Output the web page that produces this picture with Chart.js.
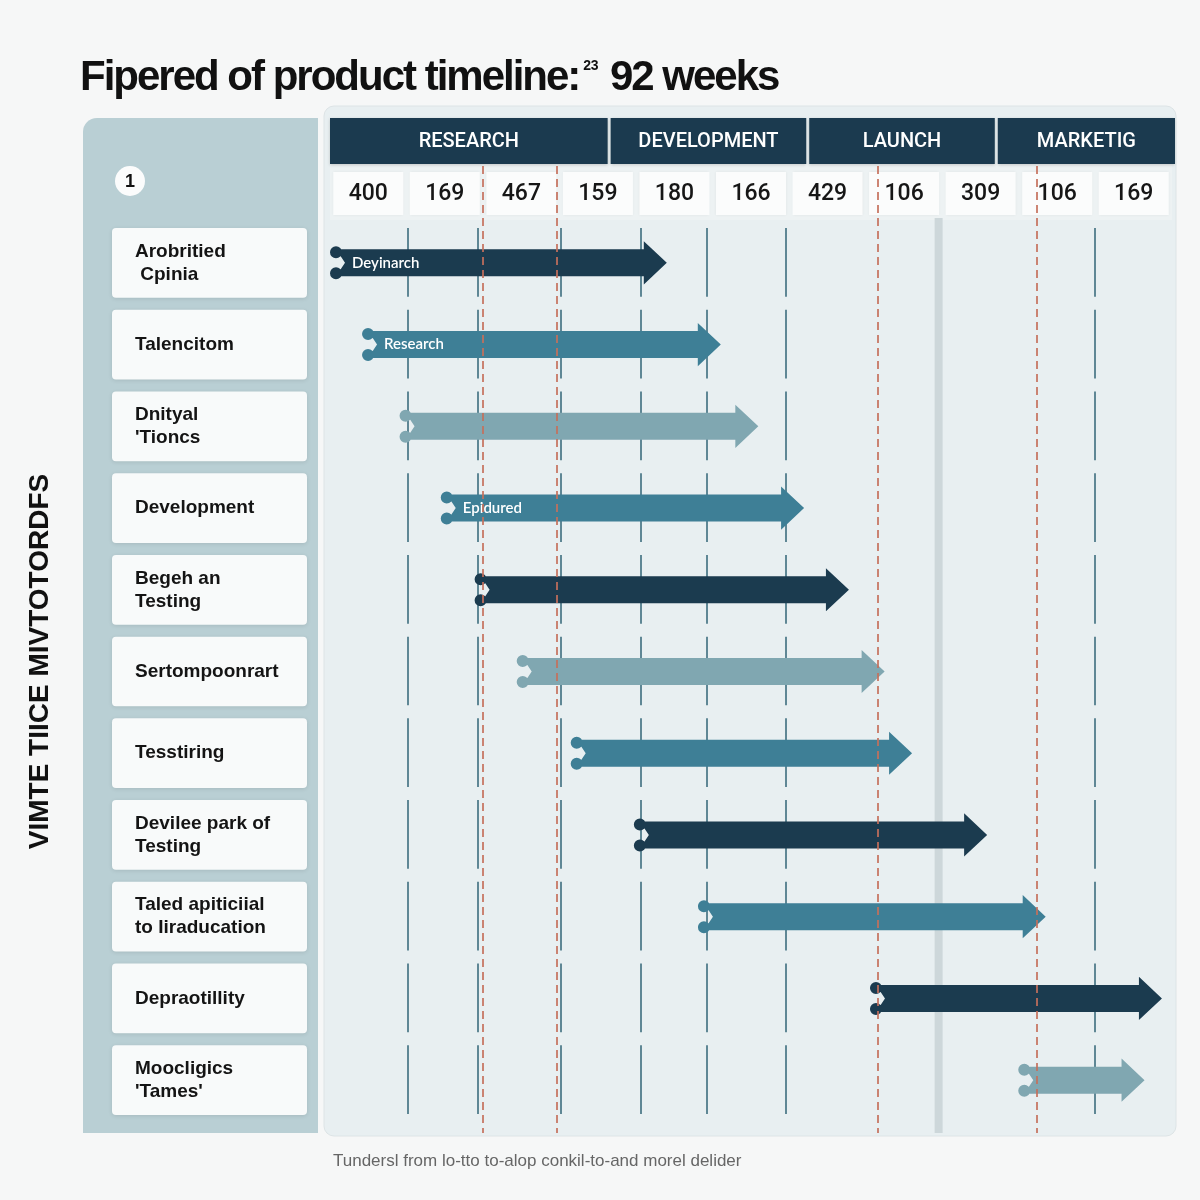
<!DOCTYPE html>
<html><head><meta charset="utf-8">
<script src="https://cdn.jsdelivr.net/npm/chart.js@4.4.1/dist/chart.umd.min.js"></script>
<style>html,body{margin:0;padding:0;background:#f6f7f7;}canvas{display:block;}</style>
</head><body>
<canvas id="c" width="1200" height="1200"></canvas>
<script>
// ---------- data ----------
const titleMain = "Fipered of product timeline:";
const titleSup = "23";
const titleTail = "92 weeks";
const axisTitle = "VIMTE TIICE MIVTOTORDFS";
const footerText = "Tundersl from lo-tto to-alop conkil-to-and morel delider";
const stepBadge = "1";
const phaseNames = ["RESEARCH", "DEVELOPMENT", "LAUNCH", "MARKETIG"];
const phaseStart = [0, 30.5, 52.2, 72.8];
const phaseEnd = [30.5, 52.2, 72.8, 92];
const headerNumbers = ["400", "169", "467", "159", "180", "166", "429", "106", "309", "106", "169"];
const taskLabels = [
  ["Arobritied", " Cpinia"],
  ["Talencitom"],
  ["Dnityal", "'Tioncs"],
  ["Development"],
  ["Begeh an", "Testing"],
  ["Sertompoonrart"],
  ["Tesstiring"],
  ["Devilee park of", "Testing"],
  ["Taled apiticiial", "to Iiraducation"],
  ["Depraotillity"],
  ["Moocligics", "'Tames'"]
];
const taskStart = [0, 3.5, 7.6, 12.1, 15.8, 20.4, 26.3, 33.2, 40.2, 59.0, 75.2];
const taskEnd   = [36.8, 42.7, 46.8, 51.8, 56.7, 60.6, 63.6, 71.8, 78.2, 90.9, 89.0];
const arrowLabels = ["Deyinarch", "Research", "", "Epidured", "", "", "", "", "", "", ""];
const taskTone = ["navy", "teal", "light", "teal", "navy", "light", "teal", "navy", "teal", "navy", "light"];
const gridWeeks = [8.5, 16.2, 25.2, 34.0, 41.2, 49.8, 83.6];
const bandWeeks = [66.5];
const milestoneWeeks = [16.7, 24.8, 59.9, 77.3];

// ---------- styles ----------
const tones = { navy: '#1b3b4f', teal: '#3e7f96', light: '#80a7b1' };
const NAVY = '#1b3a4f';

function rr(ctx, x, y, w, h, r) {
  ctx.beginPath();
  ctx.roundRect(x, y, w, h, r);
}

const backdrop = {
  id: 'backdrop',
  beforeDraw(chart) {
    const { ctx, chartArea: a, scales: { x, y } } = chart;
    const n = chart.data.labels.length;
    const half = (y.getPixelForValue(1) - y.getPixelForValue(0)) / 2;
    const headTop = a.top - 104, headBot = a.top - 58;
    ctx.save();
    ctx.fillStyle = '#f6f7f7';
    ctx.fillRect(0, 0, chart.width, chart.height);

    // right panel
    rr(ctx, a.left - 6, headTop - 12, a.right - a.left + 10, a.bottom + 15 - (headTop - 12), 10);
    ctx.fillStyle = '#e8eff1'; ctx.fill();
    ctx.strokeStyle = '#dde4e6'; ctx.lineWidth = 1; ctx.stroke();
    ctx.fillStyle = '#edf2f3';
    ctx.fillRect(a.left, headBot, a.right - a.left, a.top - headBot - 2);

    // left panel
    rr(ctx, a.left - 247, headTop, 235, a.bottom + 12 - headTop, [14, 0, 0, 0]);
    ctx.fillStyle = '#b9cfd4'; ctx.fill();

    // badge
    ctx.beginPath(); ctx.arc(a.left - 200, headTop + 63, 15, 0, Math.PI * 2);
    ctx.fillStyle = '#fbfcfc'; ctx.fill();
    ctx.fillStyle = '#111'; ctx.font = 'bold 18px "Liberation Sans"';
    ctx.textAlign = 'center'; ctx.textBaseline = 'middle';
    ctx.fillText(stepBadge, a.left - 200, headTop + 64);

    // row label boxes
    for (let i = 0; i < n; i++) {
      const cy = y.getPixelForValue(i);
      ctx.save();
      ctx.shadowColor = 'rgba(0,0,0,0.10)'; ctx.shadowBlur = 4; ctx.shadowOffsetY = 1;
      rr(ctx, a.left - 218, cy - half + 6, 195, half * 2 - 12, 4);
      ctx.fillStyle = '#f8fafa'; ctx.fill();
      ctx.restore();
      const lines = chart.data.labels[i];
      ctx.fillStyle = '#141414'; ctx.font = 'bold 19px "Liberation Sans"';
      ctx.textAlign = 'left'; ctx.textBaseline = 'middle';
      const lh = 23;
      lines.forEach((t, k) => {
        ctx.fillText(t, a.left - 195, cy + (k - (lines.length - 1) / 2) * lh);
      });
    }

    // phase header
    phaseNames.forEach((p, i) => {
      const x0 = x.getPixelForValue(phaseStart[i]) + (i > 0 ? 1.5 : 0);
      const x1 = x.getPixelForValue(phaseEnd[i]) - (i < phaseNames.length - 1 ? 1.5 : -3);
      ctx.save();
      ctx.shadowColor = 'rgba(0,0,0,0.18)'; ctx.shadowBlur = 3; ctx.shadowOffsetY = 1;
      ctx.fillStyle = NAVY; ctx.fillRect(x0, headTop, x1 - x0, headBot - headTop);
      ctx.restore();
      ctx.fillStyle = '#ffffff'; ctx.font = '500 20px Roboto';
      ctx.textAlign = 'center'; ctx.textBaseline = 'middle';
      ctx.fillText(p, (x0 + x1) / 2, (headTop + headBot) / 2 + 1);
    });

    // header numbers
    const colW = (a.right - a.left) / headerNumbers.length;
    headerNumbers.forEach((t, i) => {
      const cx = a.left + colW * (i + 0.5);
      ctx.save();
      ctx.shadowColor = 'rgba(0,0,0,0.06)'; ctx.shadowBlur = 3;
      ctx.fillStyle = '#fbfcfc'; ctx.fillRect(cx - 35, headBot + 8, 70, 43);
      ctx.restore();
      ctx.fillStyle = '#161616'; ctx.font = '500 23px Roboto';
      ctx.textAlign = 'center'; ctx.textBaseline = 'middle';
      ctx.fillText(t, cx, headBot + 30);
    });

    // band
    bandWeeks.forEach(w => {
      const px = x.getPixelForValue(w);
      ctx.fillStyle = '#cdd7da';
      ctx.fillRect(px - 4, a.top - 4, 8, a.bottom + 12 - (a.top - 4));
    });

    // grid segments
    ctx.strokeStyle = '#5f8795'; ctx.lineWidth = 2;
    gridWeeks.forEach(w => {
      const px = Math.round(x.getPixelForValue(w));
      for (let i = 0; i < n; i++) {
        const cy = y.getPixelForValue(i);
        ctx.beginPath();
        ctx.moveTo(px, cy - half + 6); ctx.lineTo(px, cy + half - 7);
        ctx.stroke();
      }
    });

    // title
    ctx.fillStyle = '#111'; ctx.textAlign = 'left'; ctx.textBaseline = 'alphabetic';
    ctx.font = 'bold 42px "Liberation Sans"';
    try { ctx.letterSpacing = '-2px'; } catch (e) {}
    ctx.fillText(titleMain, 80, 90);
    let tx = 80 + ctx.measureText(titleMain).width + 4;
    ctx.font = 'bold 14px "Liberation Sans"';
    try { ctx.letterSpacing = '-0.5px'; } catch (e) {}
    ctx.fillText(titleSup, tx, 70);
    tx += ctx.measureText(titleSup).width + 12;
    ctx.font = 'bold 42px "Liberation Sans"';
    try { ctx.letterSpacing = '-2px'; } catch (e) {}
    ctx.fillText(titleTail, tx, 90);
    try { ctx.letterSpacing = '0px'; } catch (e) {}

    // axis title
    ctx.save();
    ctx.translate(40, (a.top + a.bottom) / 2 - 10);
    ctx.rotate(-Math.PI / 2);
    ctx.font = 'bold 28px "Liberation Sans"'; ctx.textAlign = 'center'; ctx.textBaseline = 'middle';
    ctx.fillStyle = '#111';
    ctx.fillText(axisTitle, 0, 0);
    ctx.restore();

    // footer
    ctx.font = '17px "Liberation Sans"'; ctx.fillStyle = '#666';
    ctx.textAlign = 'left'; ctx.textBaseline = 'middle';
    ctx.fillText(footerText, a.left + 3, a.bottom + 40);
    ctx.restore();
  }
};

const arrows = {
  id: 'arrows',
  afterDatasetsDraw(chart) {
    const { ctx, chartArea: a, scales: { x } } = chart;
    const meta = chart.getDatasetMeta(0);
    ctx.save();
    meta.data.forEach((bar, i) => {
      const p = bar.getProps(['x', 'base', 'y', 'height'], true);
      const left = Math.min(p.x, p.base), tip = Math.max(p.x, p.base);
      const yc = p.y, h = p.height;
      const top = yc - h / 2, bot = yc + h / 2, hh = h * 0.8, hs = tip - 23;
      const r = 6;
      ctx.beginPath();
      ctx.moveTo(left + 6, top);
      ctx.lineTo(hs, top); ctx.lineTo(hs, yc - hh); ctx.lineTo(tip, yc);
      ctx.lineTo(hs, yc + hh); ctx.lineTo(hs, bot); ctx.lineTo(left + 6, bot);
      ctx.lineTo(left + 15, yc); ctx.closePath();
      ctx.moveTo(left + 6 + r, top + 3); ctx.arc(left + 6, top + 3, r, 0, Math.PI * 2);
      ctx.moveTo(left + 6 + r, bot - 3); ctx.arc(left + 6, bot - 3, r, 0, Math.PI * 2);
      ctx.fillStyle = tones[taskTone[i]];
      ctx.fill('nonzero');
      if (arrowLabels[i]) {
        ctx.fillStyle = '#ffffff'; ctx.font = '600 15px Lato';
        ctx.textAlign = 'left'; ctx.textBaseline = 'middle';
        ctx.fillText(arrowLabels[i], left + 22, yc);
      }
    });
    // milestones
    ctx.strokeStyle = 'rgba(196,112,92,0.85)'; ctx.lineWidth = 2; ctx.setLineDash([8, 5]);
    milestoneWeeks.forEach(w => {
      const px = Math.round(x.getPixelForValue(w));
      ctx.beginPath(); ctx.moveTo(px, a.top - 56); ctx.lineTo(px, a.bottom + 12); ctx.stroke();
    });
    ctx.restore();
  }
};

new Chart(document.getElementById('c'), {
  type: 'bar',
  data: {
    labels: taskLabels,
    datasets: [{
      data: taskStart.map((s, i) => [s, taskEnd[i]]),
      backgroundColor: 'rgba(0,0,0,0)',
      borderWidth: 0,
      barThickness: 27
    }]
  },
  options: {
    indexAxis: 'y',
    responsive: false,
    animation: false,
    devicePixelRatio: 1,
    layout: { padding: { left: 330, right: 28, top: 222, bottom: 79 } },
    scales: {
      x: { type: 'linear', min: 0, max: 92, display: false },
      y: { type: 'category', display: false, offset: true }
    },
    plugins: { legend: { display: false }, title: { display: false }, tooltip: { enabled: false } }
  },
  plugins: [backdrop, arrows]
});
</script>
</body></html>
